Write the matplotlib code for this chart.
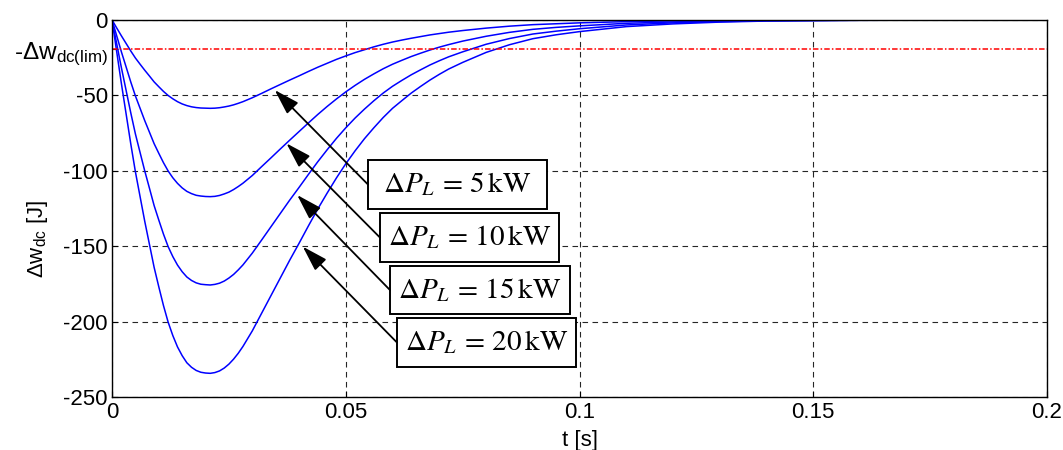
import matplotlib
matplotlib.use('Agg')
import matplotlib.pyplot as plt
from matplotlib.patches import Rectangle

plt.rcParams['font.family'] = ['Liberation Sans', 'DejaVu Sans']
plt.rcParams['mathtext.fontset'] = 'custom'
plt.rcParams['mathtext.rm'] = 'Liberation Sans'
plt.rcParams['mathtext.it'] = 'Liberation Sans:italic'
plt.rcParams['mathtext.bf'] = 'Liberation Sans:bold'
plt.rcParams['axes.unicode_minus'] = False

# time axis [s]
t = [0, .001, .002, .003, .004, .005, .006, .007, .008, .009, .010, .011, .012, .013,
     .014, .015, .016, .017, .018, .019, .020, .021, .022, .023, .024, .025, .026, .027,
     .028, .030, .032, .034, .036, .038, .040, .042, .044, .046, .048, .050, .052, .054,
     .056, .058, .060, .062, .064, .066, .068, .070, .072, .075, .080, .085, .090, .095,
     .100, .110, .120, .130, .140, .160, .200]

# delta w_dc [J]
w5 = [0, -5.3, -10.5, -15.5, -20.5, -25.2, -29.3, -33.3, -37.1, -41.0, -44.2, -47.3, -50.0,
      -52.2, -54.1, -55.6, -56.7, -57.5, -58.0, -58.3, -58.4, -58.5, -58.4, -58.1, -57.6,
      -57.0, -56.2, -55.2, -54.1, -51.5, -48.6, -45.6, -42.7, -39.8, -37.0, -34.1, -31.3,
      -28.7, -26.1, -23.8, -21.6, -19.7, -17.8, -16.1, -14.6, -13.3, -12.1, -11.0, -9.9,
      -9.0, -8.1, -7.0, -5.4, -4.1, -3.1, -2.5, -1.9, -1.1, -0.6, -0.4, -0.2, -0.1, 0]
w10 = [0, -10.5, -21.1, -31.0, -41.0, -50.3, -58.5, -66.7, -74.3, -81.9, -88.3, -94.5,
       -100.0, -104.5, -108.2, -111.2, -113.5, -115.0, -116.1, -116.6, -116.9, -117.0,
       -116.8, -116.2, -115.2, -114.0, -112.3, -110.3, -108.1, -103.0, -97.1, -91.3, -85.4,
       -79.6, -73.9, -68.2, -62.6, -57.3, -52.3, -47.6, -43.3, -39.3, -35.7, -32.3, -29.3,
       -26.7, -24.2, -22.0, -19.9, -18.0, -16.3, -14.0, -10.8, -8.2, -6.2, -4.9, -3.9, -2.2,
       -1.3, -0.7, -0.4, -0.1, 0]
w15 = [0, -15.8, -31.6, -46.5, -61.4, -75.5, -87.8, -100.0, -111.4, -122.9, -132.5, -141.8,
       -150.1, -156.7, -162.3, -166.7, -170.2, -172.5, -174.1, -175.0, -175.3, -175.5,
       -175.1, -174.3, -172.9, -170.9, -168.5, -165.5, -162.2, -154.4, -145.7, -136.9,
       -128.1, -119.3, -110.9, -102.3, -93.9, -86.0, -78.4, -71.4, -64.9, -59.0, -53.5,
       -48.4, -43.9, -40.0, -36.3, -33.0, -29.8, -27.0, -24.4, -21.1, -16.1, -12.3, -9.3,
       -7.4, -5.8, -3.3, -1.9, -1.1, -0.5, -0.2, 0]
w20 = [0, -21.1, -42.1, -62.0, -81.9, -100.6, -117.0, -133.4, -148.6, -163.8, -176.7,
       -189.1, -200.1, -209.0, -216.5, -222.3, -227.0, -230.0, -232.1, -233.3, -233.8,
       -234.0, -233.5, -232.4, -230.5, -227.9, -224.6, -220.7, -216.2, -205.9, -194.2,
       -182.5, -170.8, -159.1, -147.9, -136.4, -125.2, -114.7, -104.6, -95.2, -86.6, -78.6,
       -71.4, -64.6, -58.5, -53.4, -48.4, -44.0, -39.8, -36.0, -32.5, -28.1, -21.5, -16.4,
       -12.4, -9.8, -7.7, -4.4, -2.6, -1.4, -0.7, -0.2, 0]
w_lim = -19.5

labels = [r'$\Delta P_L \,=\, 5\,\mathrm{kW}$', r'$\Delta P_L \,=\, 10\,\mathrm{kW}$',
          r'$\Delta P_L \,=\, 15\,\mathrm{kW}$', r'$\Delta P_L \,=\, 20\,\mathrm{kW}$']
arrow_tips = [(0.0348, -46.4), (0.0373, -81.7), (0.0396, -115.9), (0.0408, -150.1)]

# label boxes in axes fraction: x0, y0, x1, y1
boxes = [(0.2737, 0.4993, 0.4650, 0.6291),
         (0.2865, 0.3589, 0.4777, 0.4887),
         (0.2972, 0.2212, 0.4896, 0.3483),
         (0.3047, 0.0808, 0.4960, 0.2106)]

fig = plt.figure(figsize=(10.63, 4.5), dpi=100)
ax = fig.add_axes([0.1054, 0.1167, 0.8796, 0.8389])

for w in [w5, w10, w15, w20]:
    ax.plot(t, w, color='#0000ff', lw=1.1)

ax.axhline(w_lim, color='#ff0000', lw=1.1, dashes=(3.6, 1.4, 1.0, 1.4))

for lab, tip, (x0, y0, x1, y1) in zip(labels, arrow_tips, boxes):
    ax.add_patch(Rectangle((x0, y0), x1 - x0, y1 - y0, transform=ax.transAxes,
                           fc='white', ec='black', lw=1.4, zorder=4))
    ax.text((x0 + x1) / 2, (y0 + y1) / 2, lab, transform=ax.transAxes,
            ha='center', va='center', fontsize=21, math_fontfamily='stix', zorder=5)
    ax.annotate('', xy=tip, xycoords='data', xytext=(x0, (y0 + y1) / 2),
                textcoords='axes fraction',
                arrowprops=dict(arrowstyle='-|>,head_length=1.3,head_width=0.4',
                                mutation_scale=12, color='black', lw=1.3,
                                shrinkA=0, shrinkB=0), zorder=4)

ax.set_xlim(0, 0.2)
ax.set_ylim(-250, 0)
ax.set_xticks([0, 0.05, 0.1, 0.15, 0.2])
ax.set_xticklabels(['0', '0.05', '0.1', '0.15', '0.2'])
ax.set_yticks([0, -50, -100, -150, -200, -250])
ax.set_yticks([w_lim], [r'-$\Delta$w$_{\rm dc(lim)}$'], minor=True)
ax.tick_params(which='both', direction='in', length=4, labelsize=16, width=0.8, pad=3)
ax.tick_params(axis='y', which='minor', labelsize=17.5)
ax.grid(True, which='major', color='0.15', linestyle=(0, (5, 4)), lw=0.8)
for s in ax.spines.values():
    s.set_linewidth(1.0)

ax.set_xlabel('t [s]', fontsize=16)
ax.xaxis.set_label_coords(0.5, -0.085)
ax.set_ylabel(r'$\Delta$w$_{\rm dc}$ [J]', fontsize=16)
ax.yaxis.set_label_coords(-0.066, 0.42)

fig.savefig('out.png', dpi=100)
